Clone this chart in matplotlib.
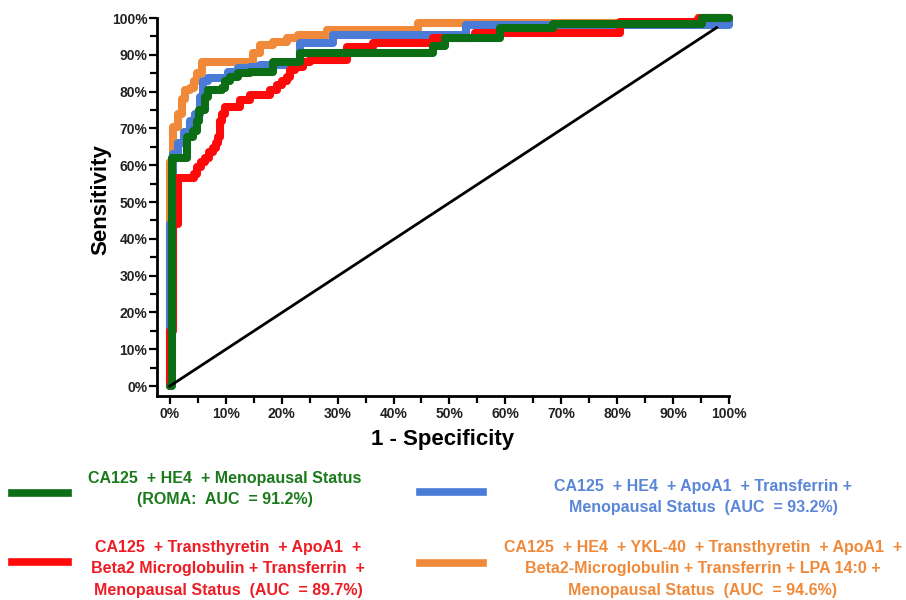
import matplotlib
matplotlib.use("Agg")
import matplotlib.pyplot as plt
from matplotlib.lines import Line2D
from matplotlib.ticker import MultipleLocator, FuncFormatter
from matplotlib import font_manager

# ---------------- data (percent) ----------------
green_fpr = [0, 0.4, 3.0, 4.1, 4.8, 5.3, 6.3, 6.8, 9.3, 9.8, 10.7, 12.2, 14.3, 18.4, 23.3, 47.0, 49.2, 59.0, 68.5, 95.2, 100]
green_tpr = [0, 62.0, 67.7, 69.3, 72.0, 75.0, 78.5, 80.4, 81.0, 83.0, 84.0, 85.0, 85.3, 88.0, 90.5, 92.5, 94.6, 97.3, 98.4, 100, 100]

blue_fpr = [0, 0, 0.3, 0.6, 1.5, 2.5, 3.6, 4.5, 5.4, 5.9, 6.8, 10.4, 12.2, 14.3, 16.1, 23.3, 29.2, 53.0, 100]
blue_tpr = [0, 44.0, 57.0, 63.0, 66.0, 69.0, 72.0, 74.0, 78.5, 83.0, 83.7, 85.3, 86.4, 86.7, 87.2, 93.2, 95.4, 98.0, 100]

red_fpr = [0, 0, 0.6, 1.5, 4.3, 4.8, 5.5, 6.3, 7.0, 7.7, 8.2, 8.6, 8.9, 9.3, 9.8, 12.5, 14.3, 17.9, 19.1, 20.1, 20.9,
           21.5, 22.4, 23.8, 25.0, 31.7, 36.3, 47.0, 54.6, 80.5, 94.6, 100]
red_tpr = [0, 15.0, 44.0, 56.5, 57.5, 59.5, 61.0, 62.0, 63.5, 64.7, 66.0, 67.7, 72.0, 74.0, 75.8, 77.7, 79.0, 80.4, 81.8,
           83.0, 84.0, 85.9, 86.7, 88.0, 88.6, 92.0, 93.2, 94.6, 96.0, 98.9, 100, 100]

orange_fpr = [0, 0, 0.5, 1.5, 2.2, 2.7, 3.6, 4.3, 4.8, 5.7, 14.8, 16.1, 18.4, 20.9, 22.9, 28.1, 44.4, 94.5, 100]
orange_tpr = [0, 61.0, 70.4, 74.0, 78.0, 80.4, 81.0, 83.0, 85.0, 88.0, 90.5, 92.7, 93.5, 94.6, 95.4, 96.7, 98.6, 100, 100]

ref_fpr = [0, 97.8]
ref_tpr = [0, 97.4]

x_ticks = [0, 10, 20, 30, 40, 50, 60, 70, 80, 90, 100]
y_ticks = [0, 10, 20, 30, 40, 50, 60, 70, 80, 90, 100]

labels = {
    "green": "CA125  + HE4  + Menopausal Status\n(ROMA:  AUC  = 91.2%)",
    "blue": "CA125  + HE4  + ApoA1  + Transferrin +\nMenopausal Status  (AUC  = 93.2%)",
    "red": "CA125  + Transthyretin  + ApoA1  +\nBeta2 Microglobulin + Transferrin  +\nMenopausal Status  (AUC  = 89.7%)",
    "orange": "CA125  + HE4  + YKL-40  + Transthyretin  + ApoA1  +\nBeta2-Microglobulin + Transferrin + LPA 14:0 +\nMenopausal Status  (AUC  = 94.6%)",
}

colors = {"green": "#0b6e14", "blue": "#4a7bd6", "red": "#ff0a0a", "orange": "#f08a3a"}
text_colors = {"green": "#1b7a1b", "blue": "#5a86d8", "red": "#ee1c24", "orange": "#f08a3a"}

# ---------------- font ----------------
avail = {f.name for f in font_manager.fontManager.ttflist}
narrow = "Liberation Sans Narrow" if "Liberation Sans Narrow" in avail else "Liberation Sans"
plt.rcParams["font.family"] = [narrow, "DejaVu Sans"]
plt.rcParams["font.weight"] = "bold"

fig = plt.figure(figsize=(9.06, 6.0), dpi=100)
ax = fig.add_axes([157 / 906, 1 - 396 / 600, (729 - 157) / 906, (396 - 18) / 600])

lw = 5.8
series = [("orange", orange_fpr, orange_tpr), ("blue", blue_fpr, blue_tpr),
          ("red", red_fpr, red_tpr), ("green", green_fpr, green_tpr)]
for name, xs, ys in series:
    ax.plot(xs, ys, drawstyle="steps-post", color=colors[name], lw=lw,
            solid_capstyle="round", solid_joinstyle="round", clip_on=False, zorder=3)

ax.plot(ref_fpr, ref_tpr, color="black", lw=2.0, zorder=4, clip_on=False)

ax.set_xlim(-2.3, 100)
ax.set_ylim(-2.7, 100)
ax.set_xticks(x_ticks)
ax.set_yticks(y_ticks)
ax.xaxis.set_minor_locator(MultipleLocator(5))
ax.yaxis.set_minor_locator(MultipleLocator(5))
fmt = FuncFormatter(lambda v, p: f"{int(round(v))}%")
ax.xaxis.set_major_formatter(fmt)
ax.yaxis.set_major_formatter(fmt)

for s in ["top", "right"]:
    ax.spines[s].set_visible(False)
for s in ["left", "bottom"]:
    ax.spines[s].set_linewidth(2.0)

ax.tick_params(which="major", length=6, width=1.6, labelsize=10, direction="out")
ax.tick_params(axis="y", which="major", pad=1)
ax.tick_params(axis="x", which="major", pad=2)
ax.tick_params(which="minor", length=5, width=1.6, direction="out")
for lab in ax.get_xticklabels() + ax.get_yticklabels():
    lab.set_fontweight("bold")
    lab.set_color("#222222")

ax.set_xlabel("1 - Specificity", fontsize=16, fontweight="bold", family=["Liberation Sans", "DejaVu Sans"], labelpad=6)
ax.set_ylabel("Sensitivity", fontsize=16, fontweight="bold", family=["Liberation Sans", "DejaVu Sans"], labelpad=0)
ax.yaxis.set_label_coords((111 - 157) / (729 - 157), (396 - 200) / (396 - 18))

# ---------------- legend ----------------
W, H = 906.0, 600.0
entries = [
    ("green", (12, 68, 493), (225, 489)),
    ("blue", (420, 483, 492), (703, 497)),
    ("red", (12, 68, 562), (228, 569)),
    ("orange", (420, 483, 563), (703, 569)),
]
for name, (x0, x1, yl), (xc, yc) in entries:
    fig.add_artist(Line2D([x0 / W, x1 / W], [1 - yl / H, 1 - yl / H], color=colors[name], lw=5.5,
                          transform=fig.transFigure))
    fig.text(xc / W, 1 - yc / H, labels[name], color=text_colors[name], fontsize=11.5,
             fontweight="bold", ha="center", va="center", multialignment="center", linespacing=1.55)

fig.savefig("out.png", dpi=100)
